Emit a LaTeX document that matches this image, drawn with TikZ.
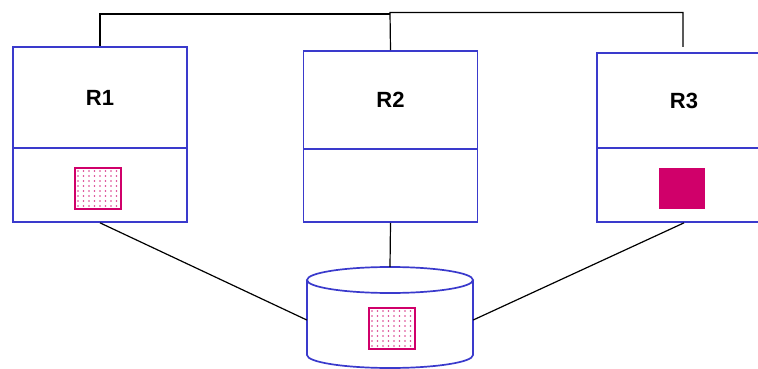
\documentclass[tikz,border=0pt]{standalone}
\usepackage{fontspec}
\setmainfont{Liberation Sans}
\usetikzlibrary{calc}
\definecolor{boxblue}{HTML}{3A3ACC}
\definecolor{mag}{HTML}{D0006A}
\definecolor{dotpink}{HTML}{DA3A8A}
\begin{document}
\begin{tikzpicture}[x=1pt,y=-1pt,
  part/.style={draw=boxblue, line width=1.7pt, inner sep=0pt, minimum width=174pt},
  label/.style={font=\bfseries\fontsize{22}{26}\selectfont},
  wire/.style={draw=black, line width=1.2pt},
  dotsq/.style={draw=mag, line width=1.7pt, inner sep=0pt,
    minimum width=46pt, minimum height=41pt,
    path picture={
      \foreach \i in {0,...,8}
        \foreach \j in {0,...,7}
          \fill[dotpink] ($(path picture bounding box.north west)+(3+5.5*\i,3+5*\j)$) circle[radius=0.9pt];
    }},
  solidsq/.style={fill=mag, inner sep=0pt, minimum width=46pt, minimum height=41pt}
]
\fill[white] (0,0) rectangle (758,369);
\useasboundingbox (0,0) rectangle (758,369);
\clip (0,0) rectangle (758,369);

% replica nodes: upper name panel and lower data panel
\node[part, label, minimum height=101pt] (r1top) at (100,97.5) {R1};
\node[part, minimum height=74pt] (r1bot) at (100,185) {};
\node[part, label, minimum height=98pt] (r2top) at (390.5,100) {R2};
\node[part, minimum height=73pt] (r2bot) at (390.5,185.5) {};
\node[part, label, minimum height=95pt] (r3top) at (684,100.5) {R3};
\node[part, minimum height=74pt] (r3bot) at (684,185) {};

% data items held by the replicas
\node[dotsq] (s1) at (98,188.5) {};
\node[solidsq] (s3) at (682,188.5) {};

% shared storage drum
\draw[boxblue, line width=1.7pt] (307,280) -- (307,355)
  arc[start angle=180, end angle=0, x radius=83, y radius=13] -- (473,280);
\draw[boxblue, line width=1.7pt] (390,280) ellipse[x radius=83, y radius=13];
\node[inner sep=0pt, minimum width=166pt, minimum height=60pt] (db) at (390,320) {};
\coordinate (dbtop) at (390,267);
\node[dotsq] (s2) at (392,328.5) {};

% links from replicas to the storage
\draw[wire] (r1bot.south) -- (db.west);
\draw[wire] (r2bot.south) -- (dbtop);
\draw[wire] (r3bot.south) -- (db.east);

% links between replicas along the top
\coordinate (t3) at (683,47);
\draw[wire] (r1top.north) -- (100,14) -- (390,14);
\draw[wire] (r2top.north) -- (390,12.5) -| (t3);
\end{tikzpicture}
\end{document}
